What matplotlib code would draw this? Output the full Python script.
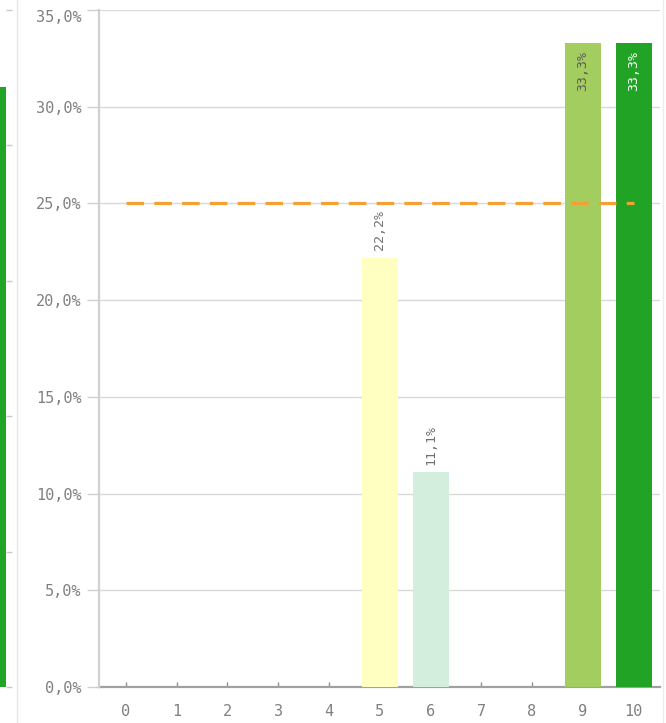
import matplotlib.pyplot as plt
from matplotlib.lines import Line2D

# données
categories = ['0', '1', '2', '3', '4', '5', '6', '7', '8', '9', '10']
valeurs = [0, 0, 0, 0, 0, 22.2, 11.1, 0, 0, 33.3, 33.3]
couleurs = ['#ffffc2', '#ffffc2', '#ffffc2', '#ffffc2', '#ffffc2', '#ffffc2',
            '#d3eedc', '#d3eedc', '#d3eedc', '#a4cd60', '#21a326']
etiquettes = ['', '', '', '', '', '22,2%', '11,1%', '', '', '33,3%', '33,3%']
seuil = 25
y_ticks = [0, 5, 10, 15, 20, 25, 30, 35]
# graphique voisin (coupé à gauche)
voisin_valeur = 44.3
voisin_ticks = [0, 10, 20, 30, 40, 50]

plt.rcParams['font.family'] = ['DejaVu Sans Mono', 'DejaVu Sans']
gris = '#808080'

fig = plt.figure(figsize=(6.66, 7.23), dpi=100)
W, H = 666, 723
bas = (H - 687) / H
haut = 677 / H

# morceau du graphique voisin
axv = fig.add_axes([0, bas, 6 / W, haut])
axv.bar([0], [voisin_valeur], width=1, color='#21a326', align='edge')
axv.set_xlim(0, 1)
axv.set_ylim(0, 50)
axv.set_yticks(voisin_ticks)
axv.yaxis.tick_right()
axv.tick_params(axis='y', direction='out', length=4.5, width=1, color='#c8c8c8', labelright=False)
axv.tick_params(axis='x', bottom=False, labelbottom=False)
for s in axv.spines.values():
    s.set_visible(False)
fig.add_artist(Line2D([16.5 / W, 16.5 / W], [0, 1], color='#e6e6e6', lw=1))
fig.add_artist(Line2D([662.5 / W, 662.5 / W], [0, 1], color='#ececec', lw=1))

# graphique principal
ax = fig.add_axes([99 / W, bas, 561 / W, haut])
x = list(range(len(categories)))
barres = ax.bar(x, valeurs, width=0.71, color=couleurs, zorder=3)
ax.plot([0, 10], [seuil, seuil], color='#f5a033', lw=2.3, ls=(0, (5.5, 3.2)), zorder=4)

for i, (v, t) in enumerate(zip(valeurs, etiquettes)):
    if not t:
        continue
    if v > 30:
        c = 'white' if i == 10 else '#5a5a5a'
        ax.text(i, v - 0.4, t, rotation=90, ha='center', va='top', fontsize=9.5, color=c, zorder=5)
    else:
        ax.text(i, v + 0.4, t, rotation=90, ha='center', va='bottom', fontsize=9.5, color='#707070', zorder=5)

ax.set_xlim(-0.53, 10.52)
ax.set_ylim(0, 35)
ax.set_yticks(y_ticks)
ax.set_yticklabels([f'{t:.1f}%'.replace('.', ',') for t in y_ticks])
ax.set_xticks(x)
ax.set_xticklabels(categories)
ax.grid(axis='y', color='#d9d9d9', lw=1, zorder=0)
ax.tick_params(axis='y', length=8.5, width=1, color='#d0d0d0', labelcolor=gris, labelsize=11, pad=4)
ax.tick_params(axis='x', direction='in', length=3.5, width=1, color='#909090', labelcolor=gris, labelsize=11, pad=12)
# étiquette du haut décalée vers le bas comme dans l'original
lab = ax.get_yticklabels()[-1]
lab.set_va('top')
lab.set_y(34.7)
for s in ['top', 'right']:
    ax.spines[s].set_visible(False)
ax.spines['left'].set_color('#d0d0d0')
ax.spines['left'].set_linewidth(1.6)
ax.spines['bottom'].set_color('#a0a0a0')
ax.spines['bottom'].set_linewidth(1.6)
ax.spines['bottom'].set_zorder(2)

plt.savefig('out.png', dpi=100)
